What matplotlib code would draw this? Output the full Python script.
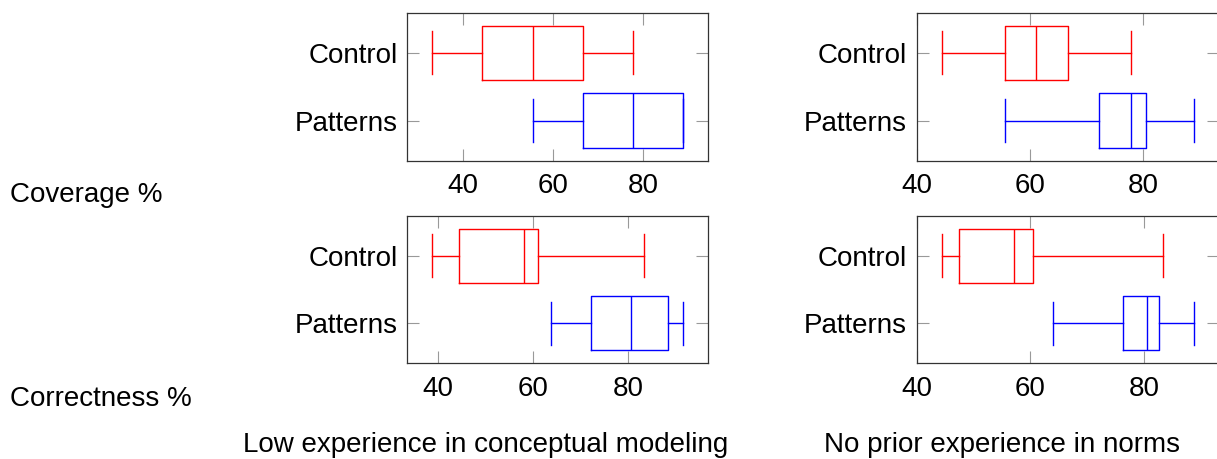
import matplotlib

matplotlib.use("Agg")
import matplotlib.pyplot as plt

plt.rcParams["font.family"] = ["Liberation Sans", "DejaVu Sans"]

# five-number summaries: whisker low, q1, median, q3, whisker high
groups = ["Control", "Patterns"]
cov_low_control = [33.3, 44.4, 55.6, 66.7, 77.8]
cov_low_patterns = [55.6, 66.7, 77.8, 88.9, 88.9]
cov_none_control = [44.4, 55.6, 61.1, 66.7, 77.8]
cov_none_patterns = [55.6, 72.2, 77.8, 80.5, 88.9]
cor_low_control = [38.8, 44.4, 58.2, 61.1, 83.3]
cor_low_patterns = [63.9, 72.2, 80.6, 88.5, 91.6]
cor_none_control = [44.5, 47.4, 57.1, 60.5, 83.4]
cor_none_patterns = [64.0, 76.4, 80.6, 82.6, 88.8]

row_labels = ["Coverage %", "Correctness %"]
col_labels = ["Low experience in conceptual modeling", "No prior experience in norms"]
xticks = [40, 60, 80]

W, H = 1217, 459
FS = 20


def stats(v, label):
    return {"whislo": v[0], "q1": v[1], "med": v[2], "q3": v[3],
            "whishi": v[4], "label": label, "fliers": []}


def add_ax(fig, x0, x1, y0, y1):
    return fig.add_axes([x0 / W, 1 - y1 / H, (x1 - x0) / W, (y1 - y0) / H])


def draw_panel(ax, control, patterns):
    for vals, pos, color in ((control, 2, "red"), (patterns, 1, "blue")):
        line = {"color": color, "linewidth": 1.0}
        ax.bxp(
            [stats(vals, "")],
            positions=[pos],
            widths=0.8,
            capwidths=0.64,
            orientation="horizontal",
            boxprops=line,
            whiskerprops=line,
            capprops=line,
            medianprops=line,
            manage_ticks=False,
        )
    lo = min(control[0], patterns[0])
    hi = max(control[4], patterns[4])
    pad = 0.1 * (hi - lo)
    ax.set_xlim(lo - pad, hi + pad)
    ax.set_ylim(0.41, 2.59)
    ax.set_yticks([2, 1])
    ax.set_yticklabels(groups)
    ax.set_xticks(xticks)
    ax.tick_params(axis="both", direction="in", length=8.5, width=0.8,
                   color="#999999", labelsize=FS, top=True, right=True)
    ax.tick_params(axis="x", pad=9)
    ax.tick_params(axis="y", pad=7)
    for s in ax.spines.values():
        s.set_color("#333333")
        s.set_linewidth(0.9)


fig = plt.figure(figsize=(W / 100, H / 100), dpi=100)

panels = [
    ((407.3, 708.3, 12.7, 160.7), cov_low_control, cov_low_patterns),
    ((916.7, 1219.0, 12.7, 160.7), cov_none_control, cov_none_patterns),
    ((407.3, 708.0, 216.0, 363.3), cor_low_control, cor_low_patterns),
    ((916.7, 1219.0, 216.0, 363.3), cor_none_control, cor_none_patterns),
]
for box, c, p in panels:
    ax = add_ax(fig, *box)
    draw_panel(ax, c, p)

fig.text(10 / W, 1 - 195 / H, row_labels[0], fontsize=FS, ha="left", va="center")
fig.text(10 / W, 1 - 399 / H, row_labels[1], fontsize=FS, ha="left", va="center")
fig.text(486 / W, 1 - 445 / H, col_labels[0], fontsize=FS, ha="center", va="center")
fig.text(1002 / W, 1 - 445 / H, col_labels[1], fontsize=FS, ha="center", va="center")

fig.savefig("out.png", dpi=100)
